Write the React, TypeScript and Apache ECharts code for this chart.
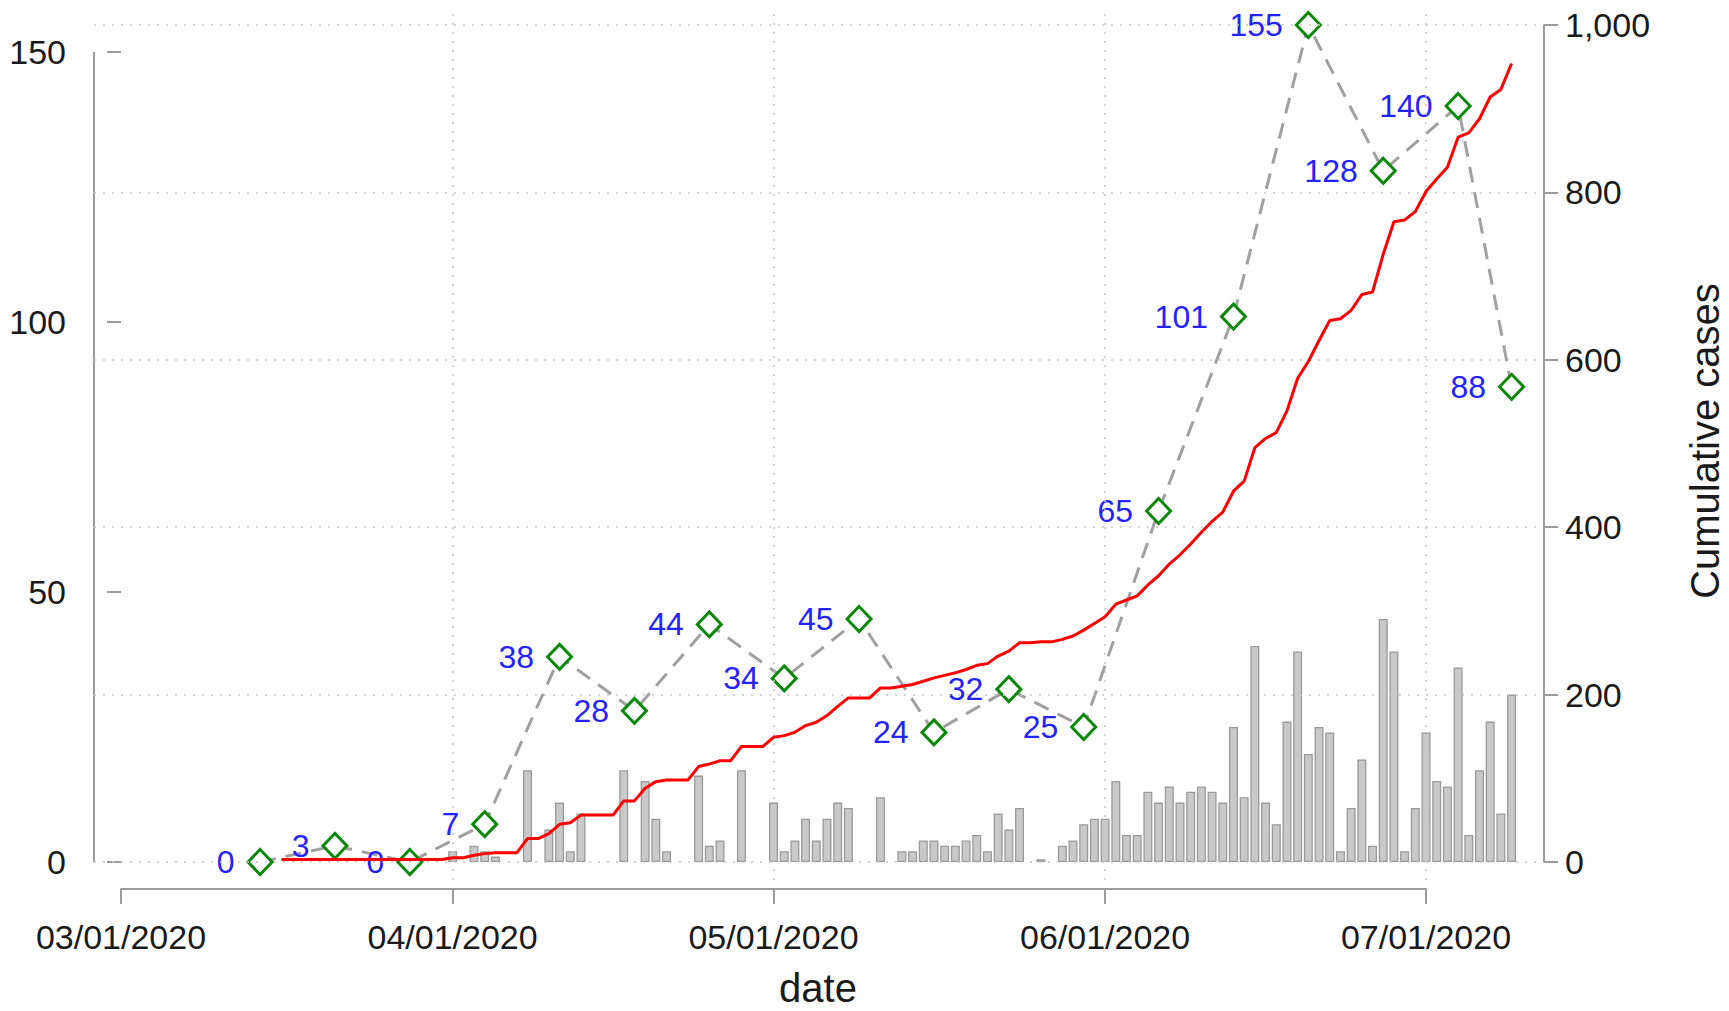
import React, { useEffect, useRef } from 'react';
import * as echarts from 'echarts';

// ---------------- data ----------------
// daily new cases (bars, left axis), one value per day starting DAILY_START
const DAILY_START = '2020-04-01';
const DAILY_CASES = [
  // April
  2, 0, 3, 2, 1, 0, 0, 17, 0, 6, 11, 2, 9, 0, 0, 0, 17, 0, 15, 8, 2, 0, 0, 16, 3, 4, 0, 17, 0, 0,
  // May
  11, 2, 4, 8, 4, 8, 11, 10, 0, 0, 12, 0, 2, 2, 4, 4, 3, 3, 4, 5, 2, 9, 6, 10, 0, 0.5, 0, 3, 4, 7, 8,
  // June
  8, 15, 5, 5, 13, 11, 14, 11, 13, 14, 13, 11, 25, 12, 40, 11, 7, 26, 39, 20, 25, 24, 2, 10, 19, 3, 45, 39, 2, 10,
  // July
  24, 15, 14, 36, 5, 17, 26, 9, 31,
];

// cumulative cases (red line, right axis), one value per day starting CUM_START
const CUM_START = '2020-03-16';
const CUM_CASES = [
  // March 16-31
  3, 3, 3, 3, 3, 3, 3, 3, 3, 3, 3, 3, 3, 3, 3, 3,
  // April
  5, 5, 8, 10, 11, 11, 11, 28, 28, 34, 45, 47, 56, 56, 56, 56, 73, 73, 88, 96, 98, 98, 98, 114, 117, 121, 121, 138, 138, 138,
  // May
  149, 151, 155, 163, 167, 175, 186, 196, 196, 196, 208, 208, 210, 212, 216, 220, 223, 226, 230, 235, 237, 246, 252, 262, 262, 263, 263, 266, 270, 277, 285,
  // June
  293, 308, 313, 318, 331, 342, 356, 367, 380, 394, 407, 418, 443, 455, 495, 506, 513, 539, 578, 598, 623, 647, 649, 659, 678, 681, 726, 765, 767, 777,
  // July
  801, 816, 830, 866, 871, 888, 914, 923, 954,
];

// weekly totals (dashed line with diamonds, left axis)
const WEEK_DATES = [
  '2020-03-14', '2020-03-21', '2020-03-28', '2020-04-04', '2020-04-11', '2020-04-18',
  '2020-04-25', '2020-05-02', '2020-05-09', '2020-05-16', '2020-05-23', '2020-05-30',
  '2020-06-06', '2020-06-13', '2020-06-20', '2020-06-27', '2020-07-04', '2020-07-09',
];
const WEEK_CASES = [0, 3, 0, 7, 38, 28, 44, 34, 45, 24, 32, 25, 65, 101, 155, 128, 140, 88];

const X_TICK_DATES = ['2020-03-01', '2020-04-01', '2020-05-01', '2020-06-01', '2020-07-01'];
const X_GRID_DATES = ['2020-04-01', '2020-05-01', '2020-06-01', '2020-07-01'];
const LEFT_TICKS = [0, 50, 100, 150];
const RIGHT_TICKS = [0, 200, 400, 600, 800, 1000];

// ---------------- helpers ----------------
const ORIGIN = Date.UTC(2020, 2, 1);
const DAY_MS = 86400000;
function dayOf(s: string): number {
  const [y, m, d] = s.split('-').map(Number);
  return Math.round((Date.UTC(y, m - 1, d) - ORIGIN) / DAY_MS);
}
function pad(n: number) {
  return n < 10 ? '0' + n : String(n);
}
function fmtDay(v: number): string {
  const dt = new Date(ORIGIN + Math.round(v) * DAY_MS);
  return pad(dt.getUTCMonth() + 1) + '/' + pad(dt.getUTCDate()) + '/' + dt.getUTCFullYear();
}

const FONT = '"Liberation Sans", Arial, Helvetica, sans-serif';
const AXIS_COLOR = '#9c9c9c';
const TEXT_COLOR = '#1a1a1a';

// axis extents (plot region)
const X_MIN = -2.524;
const X_MAX = 133.03;
const L_MIN = -3.333;
const L_MAX = 157.96;
const R_MIN = -21.51;
const R_MAX = 1019.1;

export default function App() {
  const ref = useRef<HTMLDivElement>(null);

  useEffect(() => {
    document.body.style.margin = '0';
    if (!ref.current) return;
    const chart = echarts.init(ref.current, undefined, { renderer: 'svg' });

    const d0 = dayOf(DAILY_START);
    const barData = DAILY_CASES.map((v, i) => [d0 + i, v]).filter((p) => p[1] > 0);
    const c0 = dayOf(CUM_START);
    const cumData = CUM_CASES.map((v, i) => [c0 + i, v]);
    const weekData = WEEK_DATES.map((d, i) => [dayOf(d), WEEK_CASES[i]]);
    const tickDays = X_TICK_DATES.map(dayOf);
    const gridDays = X_GRID_DATES.map(dayOf);

    const tickLine = { color: AXIS_COLOR, width: 2 };

    const option: any = {
      animation: false,
      backgroundColor: '#ffffff',
      textStyle: { fontFamily: FONT },
      grid: [
        { left: 94, right: 185, top: 9, bottom: 131 },
        { left: 121, right: 303, top: 888, height: 1 },
      ],
      xAxis: [
        { gridIndex: 0, type: 'value', min: X_MIN, max: X_MAX, show: false },
        {
          gridIndex: 1,
          type: 'value',
          min: 0,
          max: 122,
          axisLine: { show: true, lineStyle: tickLine },
          axisTick: { show: true, customValues: tickDays, length: 15, lineStyle: tickLine },
          axisLabel: {
            customValues: tickDays,
            formatter: (v: number) => fmtDay(v),
            fontSize: 34,
            color: TEXT_COLOR,
            margin: 31,
            fontFamily: FONT,
          },
          splitLine: { show: false },
        },
      ],
      yAxis: [
        {
          gridIndex: 0,
          type: 'value',
          position: 'left',
          min: L_MIN,
          max: L_MAX,
          axisLine: { show: false },
          axisTick: { show: true, customValues: LEFT_TICKS, length: 14, lineStyle: tickLine },
          axisLabel: { customValues: LEFT_TICKS, fontSize: 34, color: TEXT_COLOR, margin: 28, fontFamily: FONT },
          splitLine: { show: false },
        },
        {
          gridIndex: 0,
          type: 'value',
          position: 'right',
          min: R_MIN,
          max: R_MAX,
          axisLine: { show: false },
          axisTick: { show: true, customValues: RIGHT_TICKS, length: 14, lineStyle: tickLine },
          axisLabel: {
            customValues: RIGHT_TICKS,
            formatter: (v: number) => Math.round(v).toLocaleString('en-US'),
            fontSize: 34,
            color: TEXT_COLOR,
            margin: 21,
            fontFamily: FONT,
          },
          splitLine: { show: false },
        },
        { gridIndex: 1, type: 'value', show: false },
      ],
      series: [
        {
          type: 'bar',
          name: 'daily',
          xAxisIndex: 0,
          yAxisIndex: 0,
          data: barData,
          barWidth: 9,
          z: 2,
          itemStyle: { color: '#c9c9c9', borderColor: '#9a9a9a', borderWidth: 1.3 },
          emphasis: { disabled: true },
          markLine: {
            silent: true,
            symbol: ['none', 'none'],
            label: { show: false },
            lineStyle: { color: AXIS_COLOR, width: 2, type: 'solid' },
            emphasis: { disabled: true },
            data: [[{ coord: [X_MIN, LEFT_TICKS[0]] }, { coord: [X_MIN, LEFT_TICKS[LEFT_TICKS.length - 1]] }]],
          },
        },
        {
          type: 'line',
          name: 'grid',
          xAxisIndex: 0,
          yAxisIndex: 1,
          data: [],
          z: 3,
          markLine: {
            silent: true,
            symbol: ['none', 'none'],
            label: { show: false },
            lineStyle: { color: '#c6c6c6', width: 1.5, type: [2, 7] },
            emphasis: { disabled: true },
            data: [
              ...RIGHT_TICKS.map((v) => ({ yAxis: v })),
              ...gridDays.map((d) => ({ xAxis: d })),
            ],
          },
        },
        {
          type: 'line',
          name: 'weekly',
          xAxisIndex: 0,
          yAxisIndex: 0,
          data: weekData,
          z: 4,
          symbol: 'diamond',
          symbolSize: [24, 25],
          showAllSymbol: true,
          lineStyle: { color: '#a0a0a0', width: 3, type: [16, 10] },
          itemStyle: { color: '#ffffff', borderColor: '#0a880a', borderWidth: 3 },
          label: {
            show: true,
            position: 'left',
            distance: 12,
            color: '#2323ff',
            fontSize: 32,
            fontFamily: FONT,
            formatter: (p: any) => String(p.value[1]),
          },
          emphasis: { disabled: true },
        },
        {
          type: 'line',
          name: 'cumulative',
          xAxisIndex: 0,
          yAxisIndex: 1,
          data: cumData,
          z: 5,
          symbol: 'none',
          lineStyle: { color: '#ff0000', width: 3 },
          emphasis: { disabled: true },
          markLine: {
            silent: true,
            symbol: ['none', 'none'],
            label: { show: false },
            lineStyle: { color: AXIS_COLOR, width: 2, type: 'solid' },
            emphasis: { disabled: true },
            data: [[{ coord: [X_MAX, RIGHT_TICKS[0]] }, { coord: [X_MAX, RIGHT_TICKS[RIGHT_TICKS.length - 1]] }]],
          },
        },
      ],
      graphic: [
        {
          type: 'text',
          x: 818,
          y: 988,
          style: {
            text: 'date',
            fontSize: 40,
            fontFamily: FONT,
            fill: TEXT_COLOR,
            textAlign: 'center',
            textVerticalAlign: 'middle',
            align: 'center',
            verticalAlign: 'middle',
          },
        },
        {
          type: 'text',
          x: 1705,
          y: 441,
          rotation: Math.PI / 2,
          style: {
            text: 'Cumulative cases',
            fontSize: 40,
            fontFamily: FONT,
            fill: TEXT_COLOR,
            textAlign: 'center',
            textVerticalAlign: 'middle',
            align: 'center',
            verticalAlign: 'middle',
          },
        },
      ],
    };

    chart.setOption(option);
    return () => {
      chart.dispose();
    };
  }, []);

  return (
    <div
      ref={ref}
      style={{ position: 'absolute', left: 0, top: 0, width: 1729, height: 1011, background: '#fff' }}
    />
  );
}
